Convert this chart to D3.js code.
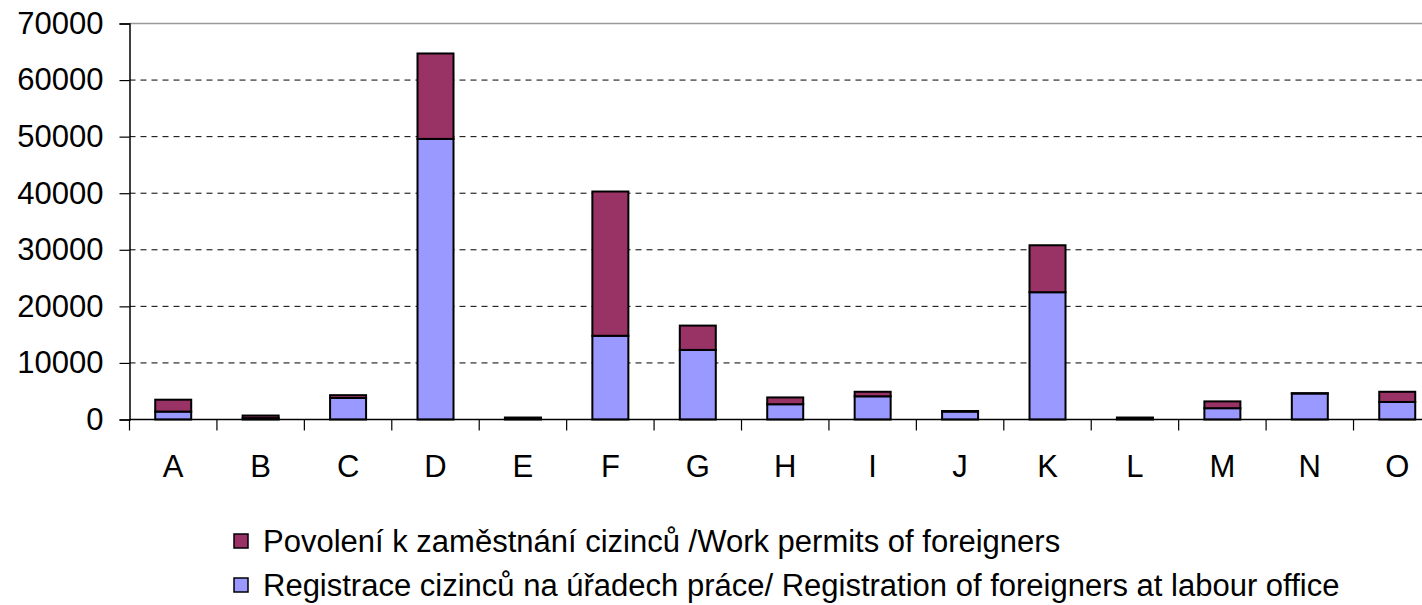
<!DOCTYPE html>
<html>
<head>
<meta charset="utf-8">
<script src="https://cdn.jsdelivr.net/npm/d3@7"></script>
<style>
  body { margin: 0; background: #fff; }
  text { font-family: "Liberation Sans", Arial, sans-serif; fill: #000; }
</style>
</head>
<body>
<svg id="chart" width="1422" height="605"></svg>
<script>
// data
const categories = ["A","B","C","D","E","F","G","H","I","J","K","L","M","N","O"];
const registrace = [1400, 250, 3800, 49600, 150, 14800, 12300, 2700, 4100, 1400, 22500, 150, 2000, 4600, 3100];
const povoleni   = [2100, 450, 500, 15100, 200, 25500, 4300, 1200, 800, 100, 8300, 200, 1200, 50, 1800];
const yTicks = [0, 10000, 20000, 30000, 40000, 50000, 60000, 70000];
const seriesNames = [
  "Povolení k zaměstnání cizinců /Work permits of foreigners",
  "Registrace cizinců na úřadech práce/ Registration of foreigners at labour office"
];
const colors = ["#993366", "#9999ff"];

const svg = d3.select("#chart");
const plotLeft = 129.5, plotTop = 23.5, plotBottom = 419.5;
const bandW = 87.43;
const plotRight = plotLeft + bandW * categories.length;
const fs = 31;

var x = d3.scaleBand().domain(categories).range([plotLeft, plotRight]).paddingInner(0).paddingOuter(0);
var y = d3.scaleLinear().domain([0, 70000]).range([plotBottom, plotTop]);

// top border of plot area
svg.append("line").attr("x1", plotLeft).attr("x2", plotRight).attr("y1", plotTop).attr("y2", plotTop)
  .attr("stroke", "#999").attr("stroke-width", 1.5);

// dashed grid
svg.append("g").selectAll("line").data(yTicks.filter(t => t > 0 && t < 70000)).enter().append("line")
  .attr("x1", plotLeft).attr("x2", plotRight)
  .attr("y1", d => y(d)).attr("y2", d => y(d))
  .attr("stroke", "#000").attr("stroke-width", 1).attr("stroke-dasharray", "6,5");

// stacked bars
const barW = 36;
const stack = categories.map((c, i) => ({ c: c, r: registrace[i], p: povoleni[i] }));
const g = svg.append("g");
stack.forEach(d => {
  const bx = x(d.c) + (bandW - barW) / 2;
  g.append("rect").attr("x", bx).attr("width", barW)
    .attr("y", y(d.r)).attr("height", y(0) - y(d.r))
    .attr("fill", colors[1]).attr("stroke", "#000").attr("stroke-width", 2);
  if (d.p > 0) {
    g.append("rect").attr("x", bx).attr("width", barW)
      .attr("y", y(d.r + d.p)).attr("height", y(d.r) - y(d.r + d.p))
      .attr("fill", colors[0]).attr("stroke", "#000").attr("stroke-width", 2);
  }
});

// y axis
const yAxis = svg.append("g").attr("transform", "translate(" + plotLeft + ",0)")
  .call(d3.axisLeft(y).tickValues(yTicks).tickSize(10).tickPadding(16).tickFormat(d3.format("d")));
yAxis.select(".domain").attr("stroke", "#000").attr("stroke-width", 1.5);
yAxis.selectAll(".tick line").attr("stroke", "#000").attr("stroke-width", 1.2);
yAxis.selectAll("text").attr("font-size", fs).attr("fill", "#000")
  .style("font-family", "'Liberation Sans', Arial, sans-serif");

// x axis with ticks at category boundaries
const xAxis = svg.append("g").attr("transform", "translate(0," + plotBottom + ")");
xAxis.append("line").attr("x1", plotLeft).attr("x2", plotRight).attr("stroke", "#000").attr("stroke-width", 1.5);
xAxis.selectAll(".bt").data(d3.range(categories.length + 1)).enter().append("line")
  .attr("x1", i => plotLeft + i * bandW).attr("x2", i => plotLeft + i * bandW)
  .attr("y1", 0).attr("y2", 11).attr("stroke", "#000").attr("stroke-width", 1.2);
xAxis.selectAll(".lbl").data(categories).enter().append("text")
  .attr("x", d => x(d) + bandW / 2).attr("y", 57)
  .attr("text-anchor", "middle").attr("font-size", fs).text(d => d);

// legend
const leg = svg.append("g");
seriesNames.forEach((name, i) => {
  const ly = 541 + i * 44;
  leg.append("rect").attr("x", 234).attr("y", ly - 7).attr("width", 14).attr("height", 14)
    .attr("fill", colors[i]).attr("stroke", "#000").attr("stroke-width", 1.5);
  leg.append("text").attr("x", 263).attr("y", ly + 11).attr("font-size", fs).text(name);
});
</script>
</body>
</html>
